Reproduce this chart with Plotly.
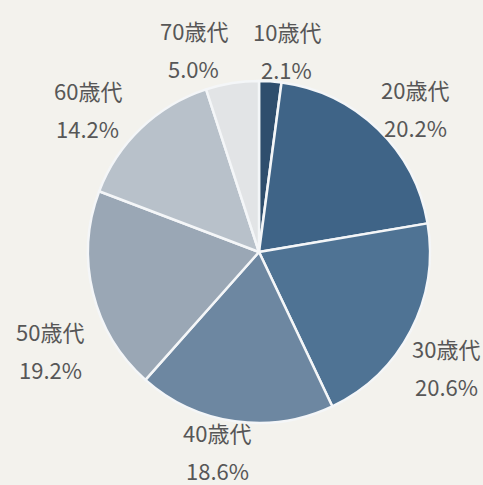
import math
import plotly.graph_objects as go

# Age-group share
labels = ["10歳代", "20歳代", "30歳代", "40歳代", "50歳代", "60歳代", "70歳代"]
shares = [2.1, 20.2, 20.6, 18.6, 19.2, 14.2, 5.0]
colors = ["#2f4e6d", "#3f6487", "#4f7394", "#6d87a1", "#9aa7b5", "#b8c1ca", "#e2e4e6"]

W, H = 483, 485
CX, CY, R = 259, 252, 171   # pie centre and radius in pixels
LABEL_R = 212               # distance of label centres from the centre
LINE_GAP = 19               # half the spacing between the two label lines

# per-label nudges (px) so the labels sit clear of their neighbours
nudges = [(14, 10), (9, 9), (-1, 17), (-12, -11), (-3, 47), (-25, 11), (-32, 6)]

bg = "#f3f2ed"
fig = go.Figure(go.Pie(
    labels=labels,
    values=shares,
    sort=False,
    direction="clockwise",
    rotation=0,
    marker=dict(colors=colors, line=dict(color="#f4f6f8", width=2.5)),
    textinfo="none",
    hoverinfo="label+value",
    showlegend=False,
    domain=dict(x=[(CX - R) / W, (CX + R) / W], y=[(H - CY - R) / H, (H - CY + R) / H]),
))

total = sum(shares)
cum = 0.0
font = dict(family="Noto Sans CJK JP", size=22, color="#575757")
for name, v, (dx, dy) in zip(labels, shares, nudges):
    mid = (cum + v / 2) / total * 2 * math.pi
    cum += v
    px = CX + LABEL_R * math.sin(mid) + dx
    py = CY - LABEL_R * math.cos(mid) + dy
    for txt, off in ((name, -LINE_GAP), (f"{v:.1f}%", LINE_GAP)):
        fig.add_annotation(
            x=px / W, y=1 - (py + off) / H, xref="paper", yref="paper",
            text=txt, showarrow=False, xanchor="center", yanchor="middle",
            font=font,
        )

fig.update_layout(
    width=W, height=H,
    margin=dict(l=0, r=0, t=0, b=0),
    paper_bgcolor=bg, plot_bgcolor=bg,
)
fig.write_html("out.html")
